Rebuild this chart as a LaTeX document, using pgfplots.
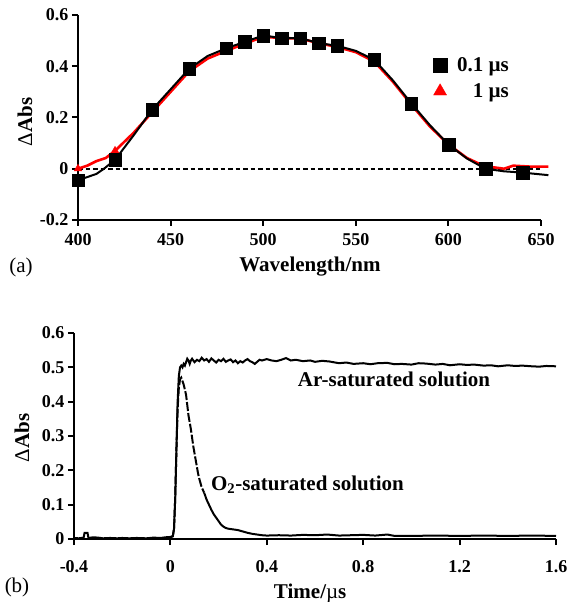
\documentclass[border=0pt]{standalone}
\usepackage{fontspec}
\setmainfont{Liberation Serif}
\usepackage{pgfplots}
\pgfplotsset{compat=1.18}
\newcommand{\tickfont}{\bfseries\fontsize{18}{20}\selectfont}
\newcommand{\labfont}{\bfseries\fontsize{21}{24}\selectfont}
\begin{document}
\begin{tikzpicture}[x=1pt,y=1pt]
\useasboundingbox (0,0) rectangle (566,602);
% ---------------- (a) ----------------
\begin{axis}[
  at={(78pt,382pt)}, anchor=south west, scale only axis,
  width=463pt, height=205pt,
  xmin=400, xmax=650, ymin=-0.2, ymax=0.6,
  axis x line=bottom, axis y line=left,
  axis line style={-, line width=2pt},
  tick align=outside, major tick length=6pt,
  tick style={line width=2pt, black},
  xtick={400,450,500,550,600,650}, xticklabels={400,450,500,550,600,650},
  ytick={-0.2,0,0.2,0.4,0.6}, yticklabels={-0.2,0,0.2,0.4,0.6},
  tick label style={font=\tickfont},
  xticklabel style={yshift=-4pt},
  /pgf/number format/assume math mode=true,
  xlabel={Wavelength/nm}, ylabel={{\mdseries Δ}Abs},
  label style={font=\labfont},
  xlabel style={at={(axis description cs:0.501,-0.225)}, anchor=center},
  ylabel style={at={(axis description cs:-0.1145,0.478)}, anchor=center},
  clip=false,
  legend style={draw=none, fill=none, font=\labfont,
    at={(axis description cs:0.760,0.815)}, anchor=north west,
    row sep=7pt},
  legend cell align=right,
]
\addlegendimage{only marks, mark=square*, mark size=7pt, black}
\addlegendentry{\hspace{8pt}0.1 µs}
\addlegendimage{only marks, mark=triangle*, mark size=7.5pt, red}
\addlegendentry{1 µs}
\addplot[black, dashed, dash pattern=on 4.5pt off 3pt, line width=1.6pt, forget plot]
  coordinates {(400,0) (650,0)};
% 1 us (red)
\addplot[red, line width=2.6pt, forget plot] coordinates {
(400,0.0) (405,0.012) (410,0.03) (415,0.042) (420,0.07) (430,0.14) (440,0.22)
(450,0.30) (460,0.38) (470,0.43) (480,0.46) (490,0.488) (500,0.515) (510,0.51)
(520,0.508) (530,0.49) (540,0.475) (550,0.455) (560,0.418) (570,0.34) (580,0.25)
(590,0.165) (600,0.095) (610,0.042) (620,0.008) (625,0.005) (630,0.0)
(635,0.012) (640,0.01) (645,0.008) (654,0.008)};
\addplot[red, only marks, mark=triangle*, mark size=4.5pt, forget plot]
  coordinates {(400,0.0) (420,0.07)};
% 0.1 us (black)
\addplot[black, line width=2pt, forget plot] coordinates {
(400,-0.045) (410,-0.02) (414,0.0) (420,0.035) (430,0.13) (440,0.23) (450,0.31)
(460,0.39) (470,0.44) (480,0.47) (490,0.495) (500,0.52) (510,0.51) (520,0.51)
(530,0.49) (540,0.48) (550,0.46) (560,0.425) (570,0.345) (580,0.255) (590,0.17)
(600,0.095) (610,0.04) (620,0.0) (630,-0.01) (640,-0.015) (654,-0.025)};
\addplot[black, only marks, mark=square*, mark size=6.3pt, forget plot] coordinates {
(400,-0.045) (420,0.035) (440,0.23) (460,0.39) (480,0.47) (490,0.495) (500,0.52)
(510,0.51) (520,0.51) (530,0.49) (540,0.48) (560,0.425) (580,0.255) (600,0.095)
(620,0.0) (640,-0.015)};
\end{axis}
\node[font=\fontsize{21}{24}\selectfont] at (21,335) {(a)};
% ---------------- (b) ----------------
\begin{axis}[
  at={(74pt,63pt)}, anchor=south west, scale only axis,
  width=482pt, height=206pt,
  xmin=-0.4, xmax=1.6, ymin=0, ymax=0.6,
  axis x line=bottom, axis y line=left,
  axis line style={-, line width=2pt},
  tick align=outside, major tick length=6pt,
  tick style={line width=2pt, black},
  xtick={-0.4,0,0.4,0.8,1.2,1.6}, xticklabels={-0.4,0,0.4,0.8,1.2,1.6},
  ytick={0,0.1,0.2,0.3,0.4,0.5,0.6}, yticklabels={0,0.1,0.2,0.3,0.4,0.5,0.6},
  tick label style={font=\tickfont},
  xticklabel style={yshift=-12pt},
  /pgf/number format/assume math mode=true,
  xlabel={Time/{\mdseries µ}s}, ylabel={{\mdseries Δ}Abs},
  label style={font=\labfont},
  xlabel style={at={(axis description cs:0.49,-0.262)}, anchor=center},
  ylabel style={at={(axis description cs:-0.108,0.49)}, anchor=center},
  clip=false,
]
% Ar-saturated
\addplot[black, line width=2pt] coordinates {
(-0.40,0.003) (-0.38,0.002) (-0.36,0.004) (-0.356,0.018) (-0.344,0.018) (-0.34,0.003)
(-0.32,0.005) (-0.30,0.004) (-0.28,0.002) (-0.25,0.003) (-0.22,0.002) (-0.20,0.003)
(-0.17,0.002) (-0.14,0.003) (-0.10,0.002) (-0.07,0.004) (-0.04,0.003) (-0.02,0.005)
(0.00,0.006) (0.01,0.008) (0.015,0.03) (0.02,0.12) (0.025,0.26) (0.03,0.40)
(0.035,0.475) (0.04,0.50) (0.045,0.505) (0.05,0.50) (0.055,0.51) (0.06,0.505)
(0.065,0.515) (0.07,0.525) (0.075,0.52) (0.08,0.51) (0.085,0.52) (0.09,0.525)
(0.10,0.515) (0.11,0.522) (0.12,0.518) (0.13,0.528) (0.14,0.52) (0.15,0.524)
(0.16,0.516) (0.17,0.526) (0.18,0.52) (0.19,0.514) (0.20,0.522) (0.21,0.518)
(0.22,0.525) (0.23,0.516) (0.24,0.52) (0.25,0.523) (0.26,0.515) (0.27,0.52)
(0.28,0.512) (0.29,0.518) (0.30,0.514) (0.31,0.52) (0.32,0.524) (0.33,0.518)
(0.34,0.515) (0.35,0.51) (0.36,0.516) (0.37,0.522) (0.38,0.52) (0.40,0.524)
(0.42,0.52) (0.44,0.518) (0.46,0.522) (0.48,0.527) (0.50,0.52) (0.52,0.522)
(0.55,0.518) (0.58,0.52) (0.60,0.516) (0.63,0.519) (0.66,0.517) (0.70,0.512)
(0.73,0.514) (0.76,0.51) (0.80,0.512) (0.83,0.509) (0.86,0.512) (0.90,0.513)
(0.93,0.509) (0.96,0.51) (1.00,0.508) (1.03,0.512) (1.06,0.511) (1.10,0.508)
(1.13,0.51) (1.16,0.506) (1.20,0.509) (1.23,0.507) (1.26,0.508) (1.30,0.505)
(1.33,0.506) (1.36,0.503) (1.40,0.506) (1.43,0.504) (1.46,0.505) (1.50,0.503)
(1.53,0.502) (1.56,0.504) (1.60,0.503)};
% O2-saturated: fast part (dashed look)
\addplot[black, line width=2pt, dash pattern=on 9pt off 2pt] coordinates {
(0.00,0.005) (0.01,0.008) (0.015,0.03) (0.02,0.12) (0.025,0.26) (0.03,0.38)
(0.035,0.44) (0.04,0.465) (0.045,0.47) (0.05,0.46) (0.055,0.45) (0.06,0.435)
(0.065,0.42) (0.07,0.39) (0.075,0.36) (0.08,0.34) (0.085,0.32) (0.09,0.295)
(0.095,0.27) (0.10,0.25) (0.105,0.23) (0.11,0.21) (0.115,0.19) (0.12,0.175)
(0.13,0.15) (0.14,0.135)};
% O2-saturated: slow tail
\addplot[black, line width=2pt] coordinates {
(0.14,0.135) (0.15,0.115) (0.16,0.10) (0.17,0.085) (0.18,0.072) (0.19,0.062)
(0.20,0.052) (0.21,0.042) (0.22,0.036) (0.23,0.032) (0.24,0.03) (0.26,0.028)
(0.28,0.026) (0.30,0.022) (0.32,0.018) (0.34,0.015) (0.36,0.013) (0.38,0.011)
(0.40,0.01) (0.45,0.011) (0.50,0.01) (0.55,0.012) (0.60,0.011) (0.65,0.013)
(0.70,0.01) (0.75,0.011) (0.80,0.012) (0.85,0.01) (0.90,0.013) (0.93,0.009)
(1.00,0.009) (1.10,0.01) (1.20,0.009) (1.30,0.01) (1.40,0.009) (1.50,0.01)
(1.60,0.009)};
\node[font=\labfont] at (axis cs:0.928,0.464) {Ar-saturated solution};
\node[font=\labfont] at (axis cs:0.569,0.157) {O\textsubscript{2}-saturated solution};
\end{axis}
\node[font=\fontsize{21}{24}\selectfont] at (17,15) {(b)};
\end{tikzpicture}
\end{document}
